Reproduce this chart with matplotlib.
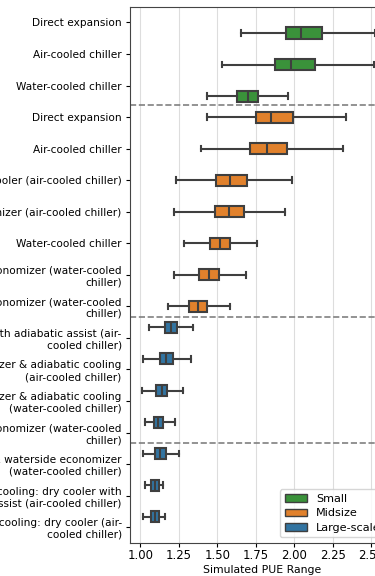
import matplotlib
matplotlib.use("Agg")
import matplotlib.pyplot as plt
from matplotlib.patches import Patch

# cooling configurations, top to bottom
labels = [
    "Direct expansion",
    "Air-cooled chiller",
    "Water-cooled chiller",
    "Direct expansion",
    "Air-cooled chiller",
    "Indirect evaporative cooler (air-cooled chiller)",
    "Airside economizer (air-cooled chiller)",
    "Water-cooled chiller",
    "Airside economizer (water-cooled\nchiller)",
    "Waterside economizer (water-cooled\nchiller)",
    "Free cooling: dry cooler with adiabatic assist (air-\ncooled chiller)",
    "Airside economizer & adiabatic cooling\n(air-cooled chiller)",
    "Airside economizer & adiabatic cooling\n(water-cooled chiller)",
    "Waterside economizer (water-cooled\nchiller)",
    "Airside & waterside economizer\n(water-cooled chiller)",
    "Free cooling: dry cooler with\nadiabatic assist (air-cooled chiller)",
    "Free cooling: dry cooler (air-\ncooled chiller)",
]
sizes = ["Small"] * 3 + ["Midsize"] * 7 + ["Large-scale"] * 7

# simulated PUE distribution per configuration
whislo = [1.651, 1.531, 1.434, 1.430, 1.391, 1.228, 1.215, 1.285, 1.215, 1.179,
          1.053, 1.014, 1.008, 1.029, 1.014, 1.029, 1.018]
q1 = [1.945, 1.875, 1.629, 1.748, 1.713, 1.490, 1.484, 1.453, 1.380, 1.315,
      1.159, 1.129, 1.101, 1.088, 1.094, 1.066, 1.066]
med = [2.042, 1.979, 1.696, 1.845, 1.821, 1.581, 1.573, 1.516, 1.443, 1.371,
       1.200, 1.168, 1.138, 1.116, 1.129, 1.092, 1.092]
q3 = [2.181, 2.135, 1.763, 1.988, 1.953, 1.689, 1.670, 1.579, 1.510, 1.430,
      1.239, 1.209, 1.174, 1.144, 1.164, 1.118, 1.118]
whishi = [2.525, 2.518, 1.958, 2.334, 2.313, 1.986, 1.938, 1.756, 1.687, 1.583,
          1.343, 1.326, 1.274, 1.222, 1.248, 1.148, 1.159]

size_order = ["Small", "Midsize", "Large-scale"]
colors = {"Small": "#3a923a", "Midsize": "#e1812c", "Large-scale": "#3274a1"}
dodge = {"Small": 1 / 3, "Midsize": 0.0, "Large-scale": -1 / 3}
separators = [2.63, 9.33, 13.33]
edge = "#3f3f3f"

fig = plt.figure(figsize=(3.75, 5.76), dpi=100)
ax = fig.add_axes([130 / 375, 33 / 576, 265 / 375, 536.3 / 576])

stats = []
positions = []
for i in range(len(labels)):
    stats.append({"whislo": whislo[i], "q1": q1[i], "med": med[i],
                  "q3": q3[i], "whishi": whishi[i], "fliers": []})
    positions.append(i + dodge[sizes[i]])

bp = ax.bxp(stats, positions=positions, widths=0.35, orientation="horizontal",
            patch_artist=True, showfliers=False,
            boxprops=dict(edgecolor=edge, linewidth=1.5),
            whiskerprops=dict(color=edge, linewidth=1.5),
            capprops=dict(color=edge, linewidth=1.5),
            medianprops=dict(color=edge, linewidth=1.5))
for patch, s in zip(bp["boxes"], sizes):
    patch.set_facecolor(colors[s])

for y in separators:
    ax.axhline(y, color="gray", linestyle="--", linewidth=1.2)

ax.set_ylim(16.5, -0.5)
ax.set_yticks(range(len(labels)))
ax.set_yticklabels(labels, fontsize=7.6)
ax.set_xlim(0.932, 0.932 + 265 / 154)
ax.set_xticks([1.0, 1.25, 1.5, 1.75, 2.0, 2.25, 2.5])
ax.set_xticklabels(["1.00", "1.25", "1.50", "1.75", "2.00", "2.25", "2.50"],
                   fontsize=8.4)
ax.tick_params(axis="both", length=3, pad=3)
ax.tick_params(axis="x", pad=1.5)
ax.set_xlabel("Simulated PUE Range", fontsize=7.8, labelpad=2)
ax.grid(axis="x", color="#dddddd", linewidth=0.8)
ax.set_axisbelow(True)
for sp in ax.spines.values():
    sp.set_color("#444444")

handles = [Patch(facecolor=colors[s], edgecolor=edge, label=s) for s in size_order]
ax.legend(handles=handles, loc="lower right", bbox_to_anchor=(1 - 4 / 265, 0),
          fontsize=8.1, labelspacing=0.4)

fig.savefig("out.png", dpi=100)
